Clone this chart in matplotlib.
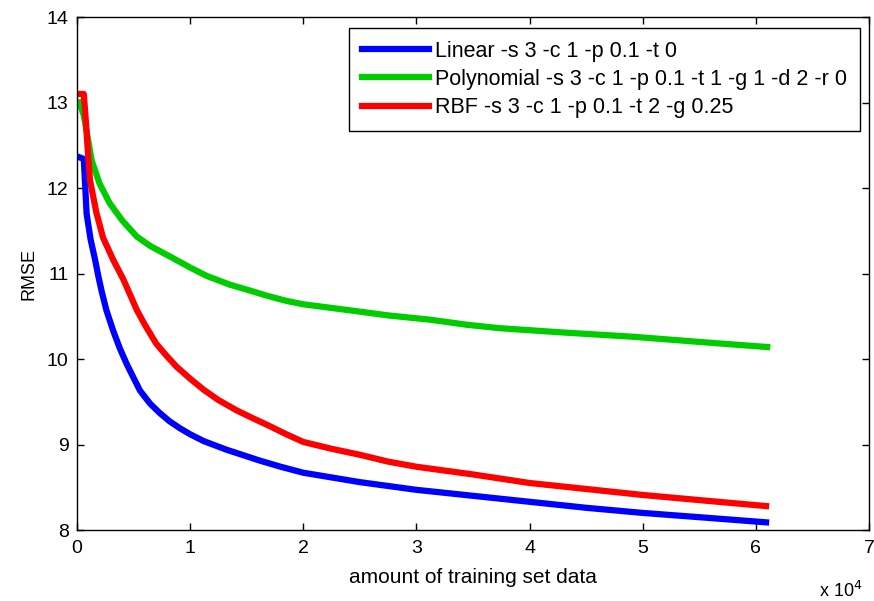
import numpy as np
import matplotlib
matplotlib.use('Agg')
import matplotlib.pyplot as plt
from matplotlib.ticker import FuncFormatter

plt.rcParams['font.family'] = ['Liberation Sans', 'DejaVu Sans']

# training set size (samples) and RMSE
lin_x = [200, 600, 850, 1200, 1600, 1900, 2200, 2600, 3200, 3800, 4400, 5000, 5570, 6450,
         7300, 8200, 9100, 10000, 11200, 13200, 16200, 18000, 20000, 25000, 30000, 35000,
         40000, 45000, 50000, 55000, 60900]
lin_y = [12.36, 12.34, 11.70, 11.40, 11.16, 10.96, 10.78, 10.57, 10.33, 10.12, 9.94, 9.78,
         9.63, 9.48, 9.37, 9.27, 9.19, 9.12, 9.04, 8.94, 8.81, 8.74, 8.67, 8.56, 8.47,
         8.40, 8.33, 8.26, 8.20, 8.15, 8.09]

poly_x = [200, 600, 1000, 1300, 2000, 2900, 4000, 5300, 6500, 8200, 10000, 11500, 13500,
          15300, 16800, 18500, 20000, 24100, 27500, 31200, 34500, 37400, 43000, 49200,
          55000, 61000]
poly_y = [13.00, 12.85, 12.55, 12.32, 12.05, 11.82, 11.62, 11.43, 11.32, 11.20, 11.07,
          10.97, 10.87, 10.80, 10.74, 10.68, 10.64, 10.57, 10.51, 10.46, 10.40, 10.36,
          10.31, 10.26, 10.20, 10.14]

rbf_x = [200, 600, 800, 1000, 1150, 1700, 2300, 3200, 4100, 5300, 6000, 7000, 7900, 8800,
         10000, 11200, 12500, 14100, 15500, 16800, 18500, 20000, 22500, 25000, 27500,
         30000, 35000, 40000, 45000, 50000, 55000, 60900]
rbf_y = [13.10, 13.10, 12.75, 12.35, 12.09, 11.72, 11.42, 11.16, 10.93, 10.57, 10.40,
         10.18, 10.04, 9.91, 9.77, 9.64, 9.52, 9.40, 9.31, 9.23, 9.12, 9.03, 8.95, 8.88,
         8.80, 8.74, 8.65, 8.55, 8.48, 8.41, 8.35, 8.28]

labels = ['Linear -s 3 -c 1 -p 0.1 -t 0',
          'Polynomial -s 3 -c 1 -p 0.1 -t 1 -g 1 -d 2 -r 0',
          'RBF -s 3 -c 1 -p 0.1 -t 2 -g 0.25']

fig = plt.figure(figsize=(8.74, 6.01), dpi=100)
ax = fig.add_axes([0.0881, 0.1181, 0.9062, 0.8536])

ax.plot(lin_x, lin_y, color='#0000ff', lw=4.5, label=labels[0])
ax.plot(poly_x, poly_y, color='#00cc00', lw=4.5, label=labels[1])
ax.plot(rbf_x, rbf_y, color='#ff0000', lw=4.5, label=labels[2])

ax.set_xlim(0, 70000)
ax.set_ylim(8, 14)
ax.set_xticks(np.arange(0, 70001, 10000))
ax.set_yticks(np.arange(8, 14.1, 1))
ax.xaxis.set_major_formatter(FuncFormatter(lambda v, p: '%d' % round(v / 1e4)))
ax.tick_params(direction='in', top=True, right=True, length=5, width=1,
               labelsize=14)
ax.tick_params(axis='x', pad=7)
ax.tick_params(axis='y', pad=6)
for s in ax.spines.values():
    s.set_linewidth(1)

ax.set_xlabel('amount of training set data', fontsize=15, labelpad=8)
ax.set_ylabel('RMSE', fontsize=13, labelpad=7)
fig.text(0.937, 0.006, r'x 10$^{4}$', fontsize=13)

leg = ax.legend(loc='upper right', bbox_to_anchor=(0.9886, 0.9786), fontsize=15.5,
                handlelength=3.1, handletextpad=0.3, labelspacing=0.33,
                borderpad=0.6, borderaxespad=0.0, fancybox=False, framealpha=1)
leg.get_frame().set_edgecolor('black')
leg.get_frame().set_linewidth(1)

fig.savefig('out.png', dpi=100)
